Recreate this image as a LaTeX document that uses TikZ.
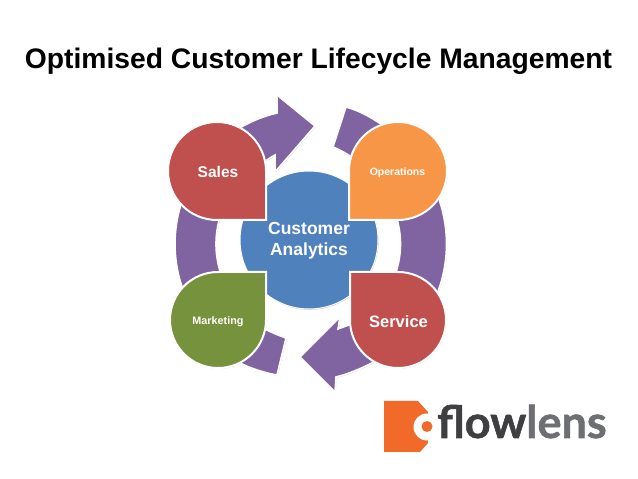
\documentclass[tikz,border=0pt]{standalone}
\usepackage{fontspec}
\setmainfont{Liberation Sans}
\newfontfamily\logofont[BoldFeatures={FakeBold=1.2}]{Lato}
\usetikzlibrary{shadows}
\definecolor{cpurple}{HTML}{8064A2}
\definecolor{cred}{HTML}{C0504D}
\definecolor{corange}{HTML}{F79646}
\definecolor{cgreen}{HTML}{76923C}
\definecolor{cblue}{HTML}{4F81BD}
\definecolor{clogo}{HTML}{F26A2A}
\tikzset{
  softshadow/.style={drop shadow={shadow xshift=0.6pt,shadow yshift=-0.8pt,opacity=0.22,fill=black}},
  ringpart/.style={fill=cpurple,draw=white,line width=1.6pt,line join=miter,softshadow},
  petal/.style={draw=white,line width=2pt,line join=miter,softshadow},
  lab/.style={text=white,font=\bfseries,align=center,inner sep=0pt},
}
\begin{document}
\begin{tikzpicture}[x=1pt,y=1pt]
\useasboundingbox (0,0) rectangle (638,479);
\fill[white] (0,0) rectangle (638,479);
\node[font=\bfseries\fontsize{28.25}{31}\selectfont,text=black,inner sep=0pt] (title) at (318.5,418) {Optimised Customer Lifecycle Management};
% ring pieces
\path[ringpart] (309,235) ++(125:134) arc[start angle=125,end angle=235,radius=134]
  -- ++(55:41) arc[start angle=235,end angle=125,radius=93] -- cycle;
\path[ringpart] (309.5,235) ++(-55:137) arc[start angle=-55,end angle=55,radius=137]
  -- ++(235:46) arc[start angle=55,end angle=-55,radius=91] -- cycle;
% top arrow
\path[ringpart] (230,345) .. controls (245,355) and (260,362) .. (277,366) -- (277,384) -- (315,353) -- (275,307) -- (275,324)
  .. controls (268,320) and (262,316) .. (250,305) -- cycle;
% upper right segment
\path[ringpart] (346,372) .. controls (360,368) and (372,362) .. (395,345) -- (375,300)
  .. controls (362,315) and (350,325) .. (333,332) -- cycle;
% lower left segment
\path[ringpart] (286,141) .. controls (278,144) and (272,146) .. (255,155) -- (225,125)
  .. controls (240,114) and (260,107) .. (277,104) -- cycle;
% service arrow
\path[ringpart] (300,122) -- (340,162) -- (338,150) -- (360,158)
  -- (392,130) -- (372,116) .. controls (360,110) and (348,105) .. (336,102) -- (335,87) -- cycle;
% centre
\node[circle,fill=cblue,draw=white,line width=1pt,minimum size=138pt,inner sep=0pt,softshadow] (centre) at (309,239) {};
% petals
\path[petal,fill=cred] (266,259) -- (266,308) arc[start angle=0,end angle=270,radius=49] -- cycle;
\path[petal,fill=corange] (349,259) -- (349,308) arc[start angle=180,end angle=-90,radius=49] -- cycle;
\path[petal,fill=cgreen] (266,207) -- (266,159) arc[start angle=0,end angle=-270,radius=48] -- cycle;
\path[petal,fill=cred] (350,207) -- (350,159) arc[start angle=180,end angle=450,radius=48] -- cycle;
% labels
\node[lab,font=\bfseries\fontsize{15.5}{18}\selectfont] (sales) at (218,307.5) {Sales};
\node[lab,font=\bfseries\fontsize{10.5}{12}\selectfont] (ops) at (397.5,306.5) {Operations};
\node[lab,font=\bfseries\fontsize{10.8}{12}\selectfont] (mkt) at (218,157) {Marketing};
\node[lab,font=\bfseries\fontsize{16.5}{18}\selectfont] (srv) at (398.5,157) {Service};
\node[lab,font=\bfseries\fontsize{17.5}{21}\selectfont] (ca) at (309,238.5) {Customer\\Analytics};
% logo
\fill[clogo] (384,78) -- (384,27) -- (420,27) -- (428,36) -- (428,67) -- (418,78) -- cycle;
\fill[white] (427,52) circle (13.5);
\fill[white] (428,30) rectangle (436,75);
\fill[clogo] (427,52.5) circle (5.5);
\node[anchor=base west,inner sep=0pt,font=\logofont\fontsize{45}{50}\selectfont] (logo) at (437,41)
  {\textcolor[HTML]{3F3F42}{\bfseries flow}\textcolor[HTML]{6E6F72}{\bfseries lens}};
\end{tikzpicture}
\end{document}
